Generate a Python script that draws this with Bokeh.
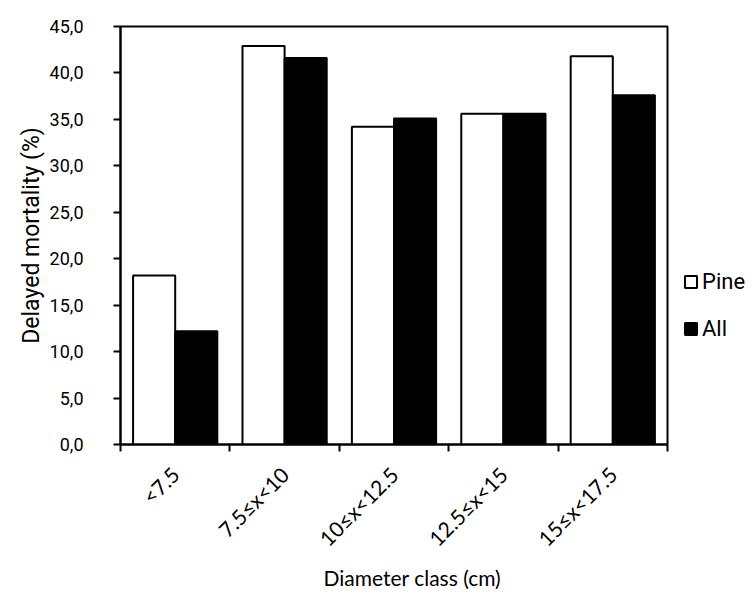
import math
from bokeh.plotting import figure
from bokeh.models import (ColumnDataSource, FixedTicker, Range1d, Legend, LegendItem, LinearAxis, Title)
from bokeh.transform import dodge
from bokeh.embed import file_html
from bokeh.resources import INLINE

categories = ["<7.5", "7.5\u2264x<10", "10\u2264x<12.5", "12.5\u2264x<15", "15\u2264x<17.5"]
pine = [18.2, 42.9, 34.2, 35.6, 41.8]
all_trees = [12.2, 41.6, 35.1, 35.6, 37.6]
y_ticks = [0, 5, 10, 15, 20, 25, 30, 35, 40, 45]
y_tick_labels = ["0,0", "5,0", "10,0", "15,0", "20,0", "25,0", "30,0", "35,0", "40,0", "45,0"]

xc = [i + 0.5 for i in range(len(categories))]
src = ColumnDataSource(dict(xc=xc, pine=pine, all=all_trees, cat=categories))

p = figure(frame_width=547, frame_height=418, output_backend="svg", toolbar_location=None,
           x_range=Range1d(0, len(categories)), y_range=Range1d(0, 45),
           min_border_left=120, min_border_top=26, min_border_right=0, min_border_bottom=140,
           x_axis_type=None)

bw = 0.385
r1 = p.vbar(x=dodge("xc", -bw / 2, range=p.x_range), top="pine", width=bw, source=src,
            fill_color="white", line_color="black", line_width=2)
r2 = p.vbar(x=dodge("xc", bw / 2, range=p.x_range), top="all", width=bw, source=src,
            fill_color="black", line_color="black", line_width=2)

p.grid.visible = False
p.outline_line_color = "black"
p.outline_line_width = 2
p.background_fill_color = "white"
p.border_fill_color = "white"

# x axis
xaxis = LinearAxis(ticker=FixedTicker(ticks=xc, minor_ticks=list(range(len(categories) + 1))))
xaxis.major_label_overrides = {x: c for x, c in zip(xc, categories)}
xaxis.major_label_orientation = math.pi / 4
xaxis.major_tick_out = 0
xaxis.major_tick_in = 0
xaxis.minor_tick_out = 7
xaxis.minor_tick_in = 0
xaxis.minor_tick_line_color = "black"
xaxis.minor_tick_line_width = 2
xaxis.axis_line_color = "black"
xaxis.axis_line_width = 2
xaxis.major_label_standoff = 19
xaxis.major_label_text_font = "Lato"
xaxis.major_label_text_font_size = "21px"
xaxis.major_label_text_color = "black"
p.add_layout(xaxis, "below")

xtitle = Title(text="Diameter class (cm)", align="left", offset=203, standoff=0,
               text_font="Lato", text_font_size="21px", text_font_style="normal",
               text_color="black")
p.add_layout(xtitle, "below")

# y axis
ya = p.yaxis[0]
ya.ticker = FixedTicker(ticks=y_ticks, minor_ticks=[])
ya.major_label_overrides = {t: l for t, l in zip(y_ticks, y_tick_labels)}
ya.major_tick_out = 7
ya.major_tick_in = 0
ya.major_tick_line_width = 2
ya.major_tick_line_color = "black"
ya.axis_line_width = 2
ya.axis_line_color = "black"
ya.major_label_standoff = 30
ya.major_label_text_font = "Roboto"
ya.major_label_text_font_size = "18px"
ya.major_label_text_color = "black"
ya.axis_label = "Delayed mortality (%)"
ya.axis_label_text_font = "Roboto"
ya.axis_label_text_font_size = "23px"
ya.axis_label_text_font_style = "normal"
ya.axis_label_text_color = "black"
ya.axis_label_standoff = 2

legend = Legend(items=[LegendItem(label="Pine", renderers=[r1]),
                       LegendItem(label="All", renderers=[r2])],
                location=(16, 103), orientation="vertical")
legend.border_line_alpha = 0
legend.background_fill_alpha = 0
legend.margin = 0
legend.padding = 0
legend.glyph_width = 15
legend.glyph_height = 15
legend.label_height = 20
legend.spacing = 22
legend.label_standoff = 4
legend.label_text_font = "Roboto"
legend.label_text_font_size = "22px"
legend.label_text_color = "black"
p.add_layout(legend, "right")

open("out.html", "w").write(file_html(p, INLINE))
